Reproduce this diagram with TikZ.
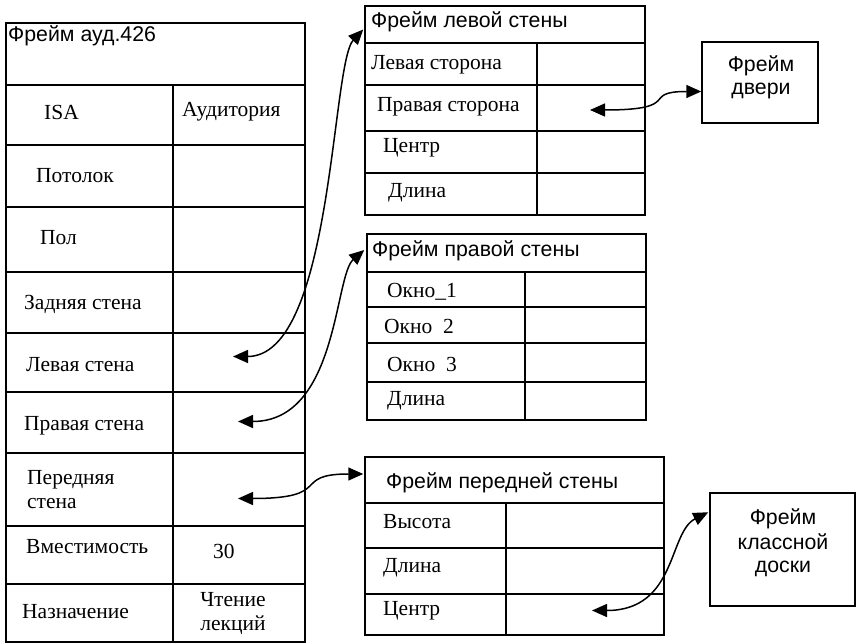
\documentclass[tikz,border=0pt]{standalone}
\usepackage{fontspec}
\setmainfont{Liberation Serif}
\setsansfont{Liberation Sans}
\usetikzlibrary{arrows.meta,fit,calc}
\begin{document}
\begin{tikzpicture}[x=1pt,y=-1pt,
  cell/.style={draw, line width=1.5pt, inner sep=0pt, rectangle},
  lbl/.style={anchor=base west, inner sep=0pt, font=\fontsize{21.5}{24}\selectfont},
  slbl/.style={anchor=base west, inner sep=0pt, font=\sffamily\fontsize{21.3}{24}\selectfont},
  clbl/.style={anchor=base, inner sep=0pt, font=\fontsize{21.5}{24}\selectfont},
  cslbl/.style={anchor=base, inner sep=0pt, font=\sffamily\fontsize{21.3}{24}\selectfont},
  conn/.style={line width=1.5pt, {Triangle[length=15pt,width=13pt]}-{Triangle[length=15pt,width=13pt]}}
]
\useasboundingbox (0,0) rectangle (856,644);

% ---- main frame ----
\node[cell, fit={(6,23)(305,85)}] (m0) {};
\foreach \i/\a/\b in {1/85/145, 2/145/207, 3/207/272, 4/272/333, 5/333/392, 6/392/453, 7/453/526, 8/526/584, 9/584/642}{
  \node[cell, fit={(6,\a)(173,\b)}] (mL\i) {};
  \node[cell, fit={(173,\a)(305,\b)}] (mR\i) {};
}
\node[slbl] (tm0) at (8,42) {Фрейм ауд.426};
\node[lbl] (tm1) at (44,120) {ISA};
\node[lbl] (tm1v) at (182,117) {Аудитория};
\node[lbl] (tm2) at (36,183) {Потолок};
\node[lbl] (tm3) at (40,245) {Пол};
\node[lbl] (tm4) at (24,309) {Задняя стена};
\node[lbl] (tm5) at (26,371) {Левая стена};
\node[lbl] (tm6) at (24,430) {Правая стена};
\node[lbl] (tm7a) at (27,484) {Передняя};
\node[lbl] (tm7b) at (27,508) {стена};
\node[lbl] (tm8) at (26,553) {Вместимость};
\node[lbl] (tm8v) at (213,558) {30};
\node[lbl] (tm9) at (22,618) {Назначение};
\node[clbl] (tm9va) at (233,606) {Чтение};
\node[clbl] (tm9vb) at (233,630) {лекций};

% ---- left wall frame ----
\node[cell, fit={(365,6)(645,43)}] (lw0) {};
\foreach \i/\a/\b in {1/43/85, 2/85/131, 3/131/173, 4/173/215}{
  \node[cell, fit={(365,\a)(537,\b)}] (lwL\i) {};
  \node[cell, fit={(537,\a)(645,\b)}] (lwR\i) {};
}
\node[slbl] (tl0) at (371,28) {Фрейм левой стены};
\node[lbl] (tl1) at (371,70) {Левая сторона};
\node[lbl] (tl2) at (377,112) {Правая сторона};
\node[lbl] (tl3) at (383,153) {Центр};
\node[lbl] (tl4) at (388,198) {Длина};

% ---- right wall frame ----
\node[cell, fit={(367,234)(646,272)}] (rw0) {};
\foreach \i/\a/\b in {1/272/307, 2/307/343, 3/343/382, 4/382/420}{
  \node[cell, fit={(367,\a)(525,\b)}] (rwL\i) {};
  \node[cell, fit={(525,\a)(646,\b)}] (rwR\i) {};
}
\node[slbl] (tr0) at (372,257) {Фрейм правой стены};
\node[lbl] (tr1) at (387,297) {Окно\_1};
\node[lbl] (tr2) at (384,333) {Окно\ \ 2};
\node[lbl] (tr3) at (387,371) {Окно\ \ 3};
\node[lbl] (tr4) at (387,405) {Длина};

% ---- front wall frame ----
\node[cell, fit={(365,457)(664,503)}] (fw0) {};
\foreach \i/\a/\b in {1/503/548, 2/548/594, 3/594/635}{
  \node[cell, fit={(365,\a)(506,\b)}] (fwL\i) {};
  \node[cell, fit={(506,\a)(664,\b)}] (fwR\i) {};
}
\node[slbl] (tf0) at (386,488) {Фрейм передней стены};
\node[lbl] (tf1) at (383,528) {Высота};
\node[lbl] (tf2) at (383,572) {Длина};
\node[lbl] (tf3) at (383,615) {Центр};

% ---- door & board frames ----
\node[cell, fit={(702,42)(818,123)}] (door) {};
\node[cslbl] (td1) at (761,72) {Фрейм};
\node[cslbl] (td2) at (761,95) {двери};
\node[cell, fit={(710,493)(855,606)}] (board) {};
\node[cslbl] (tb1) at (783,524) {Фрейм};
\node[cslbl] (tb2) at (783,549) {классной};
\node[cslbl] (tb3) at (783,572) {доски};

% ---- connector ends ----
\coordinate (p1a) at ($(mR5.center)+(-6,-6)$);
\coordinate (p1b) at ($(lw0.west)+(-1,5)$);
\coordinate (p2a) at ($(mR6.center)+(-1,-1)$);
\coordinate (p2b) at ($(rw0.west)+(-2,-3)$);
\coordinate (p3a) at ($(mR7.center)+(-1,9)$);
\coordinate (p3b) at ($(fw0.west)+(-1,-6)$);
\coordinate (p4a) at ($(lwR2.center)+(-1,2)$);
\coordinate (p4b) at ($(door.west)+(0,9)$);
\coordinate (p5a) at ($(fwR3.center)+(7,-4)$);
\coordinate (p5b) at ($(board.north west)+(-1,20)$);

% ---- connectors ----
\draw[conn] (p1a) .. controls +(100,0) and +(-32,34) .. (p1b);
\draw[conn] (p2a) .. controls +(100,0) and +(-30,26) .. (p2b);
\draw[conn] (p3a) .. controls +(97,0) and +(-73,0) .. (p3b);
\draw[conn] (p4a) .. controls +(95,0) and +(-62,0) .. (p4b);
\draw[conn] (p5a) .. controls +(85,0) and +(-40,20) .. (p5b);
\end{tikzpicture}
\end{document}
